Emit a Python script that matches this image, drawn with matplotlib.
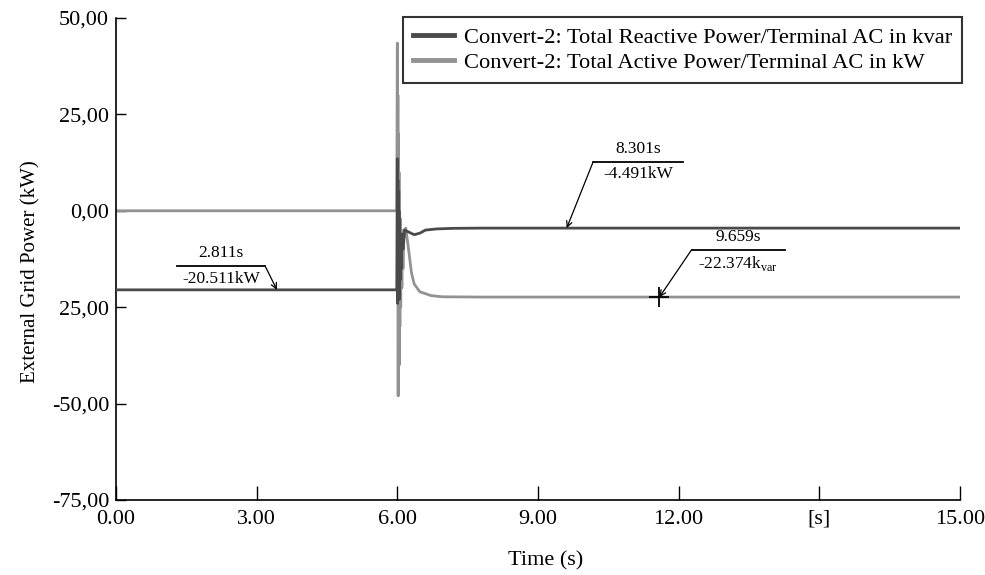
import matplotlib
matplotlib.use("Agg")
import matplotlib.pyplot as plt

plt.rcParams['font.family'] = ['Liberation Serif', 'DejaVu Serif']
plt.rcParams['mathtext.fontset'] = 'custom'
plt.rcParams['mathtext.rm'] = 'Liberation Serif'

# x tick positions and the labels printed under them
x_ticks = [0, 2.5, 5, 7.5, 10, 12.5, 15]
x_tick_labels = ['0.00', '3.00', '6.00', '9.00', '12.00', '[s]', '15.00']
y_ticks = [50, 25, 0, -25, -50, -75]
y_tick_labels = ['50,00', '25,00', '0,00', '25,00', '-50,00', '-75,00']

# Convert-2: total reactive power (dark trace)
t_reactive = [0.0, 4.99, 5.000, 5.005, 5.010, 5.015, 5.020, 5.025, 5.030, 5.035,
              5.040, 5.050, 5.060, 5.070, 5.080, 5.100, 5.130, 5.200, 5.300, 5.400,
              5.500, 5.700, 6.000, 6.500, 15.0]
q_reactive = [-20.5, -20.5, 13.5, -24.0, 8.0, -22.0, 5.0, -20.0, 0.0, -23.0,
              -3.0, -18.0, -8.0, -15.0, -6.0, -10.0, -5.0, -5.5, -6.2, -5.8,
              -5.0, -4.7, -4.55, -4.49, -4.49]

# Convert-2: total active power (light trace)
t_active = [0.0, 4.99, 5.000, 5.005, 5.010, 5.015, 5.020, 5.025, 5.030, 5.035,
            5.040, 5.045, 5.050, 5.060, 5.070, 5.080, 5.090, 5.100, 5.120, 5.150,
            5.200, 5.250, 5.300, 5.400, 5.600, 5.800, 6.500, 15.0]
p_active = [0.0, 0.0, 43.5, -20.0, 30.0, -48.0, 20.0, -35.0, 10.0, -40.0,
            5.0, -30.0, -2.0, -25.0, -5.0, -20.0, -8.0, -15.0, -5.0, -4.5,
            -10.0, -16.0, -19.0, -21.0, -22.0, -22.3, -22.37, -22.37]

# cursor readouts: (text above, text below, tip time, tip value)
readouts = [
    ('2.811s', '-20.511kW', 2.86, -20.5),
    ('8.301s', '-4.491kW', 8.01, -4.49),
    ('9.659s', '-22.374k$_{\\mathrm{var}}$', 9.659, -22.37),
]
# underline span (t0, t1, value) for each readout
readout_lines = [(1.08, 2.65, -14.3), (8.48, 10.08, 12.7), (10.23, 11.89, -10.1)]

fig = plt.figure(figsize=(9.85, 5.75), dpi=100)
ax = fig.add_axes([116 / 985, 75 / 575, 844 / 985, 482 / 575])

ax.plot(t_reactive, q_reactive, color='#4a4a4a', linewidth=2.0,
        label='Convert-2: Total Reactive Power/Terminal AC in kvar', zorder=3)
ax.plot(t_active, p_active, color='#929292', linewidth=2.0,
        label='Convert-2: Total Active Power/Terminal AC in kW', zorder=2)

ax.set_xlim(0, 15)
ax.set_ylim(-75, 50)
ax.set_xticks(x_ticks)
ax.set_xticklabels(x_tick_labels, fontsize=16)
ax.set_yticks(y_ticks)
ax.set_yticklabels(y_tick_labels, fontsize=16)
ax.tick_params(axis='x', direction='in', length=10, pad=7, width=1)
ax.tick_params(axis='y', direction='in', length=7, pad=5, width=1)
ax.spines['top'].set_visible(False)
ax.spines['right'].set_visible(False)
for s in ['left', 'bottom']:
    ax.spines[s].set_linewidth(1.2)

ax.set_xlabel('Time (s)', fontsize=16)
ax.xaxis.set_label_coords(0.509, -0.106)
ax.set_ylabel('External Grid Power (kW)', fontsize=15)
ax.yaxis.set_label_coords(-0.089, 0.473)

# readouts
for (top, bottom, tt, vv), (x0, x1, yl) in zip(readouts, readout_lines):
    ax.plot([x0, x1], [yl, yl], color='black', linewidth=1.3, zorder=4)
    xm = (x0 + x1) / 2
    ax.text(xm, yl + 1.2, top, ha='center', va='bottom', fontsize=12.5)
    ax.text(xm, yl - 1.2, bottom, ha='center', va='top', fontsize=12.5)
    start = x1 if tt > x1 else x0
    ax.annotate('', xy=(tt, vv), xytext=(start, yl),
                arrowprops=dict(arrowstyle='->', color='black', lw=0.9,
                                shrinkA=0, shrinkB=0, mutation_scale=10))

# cross marker at last readout
ax.plot([readouts[2][2]], [readouts[2][3]], marker='+', color='black',
        markersize=15, markeredgewidth=1.3, zorder=5)

leg = ax.legend(loc='upper right', bbox_to_anchor=(962 / 985, 1 - 17 / 575),
                bbox_transform=fig.transFigure, fontsize=16.2, frameon=True,
                fancybox=False, edgecolor='black', handlelength=1.8,
                handletextpad=0.45, borderpad=0.45, labelspacing=0.2,
                borderaxespad=0)
leg.get_frame().set_linewidth(1.5)
for line in leg.get_lines():
    line.set_linewidth(3.5)

fig.savefig('out.png', dpi=100)
